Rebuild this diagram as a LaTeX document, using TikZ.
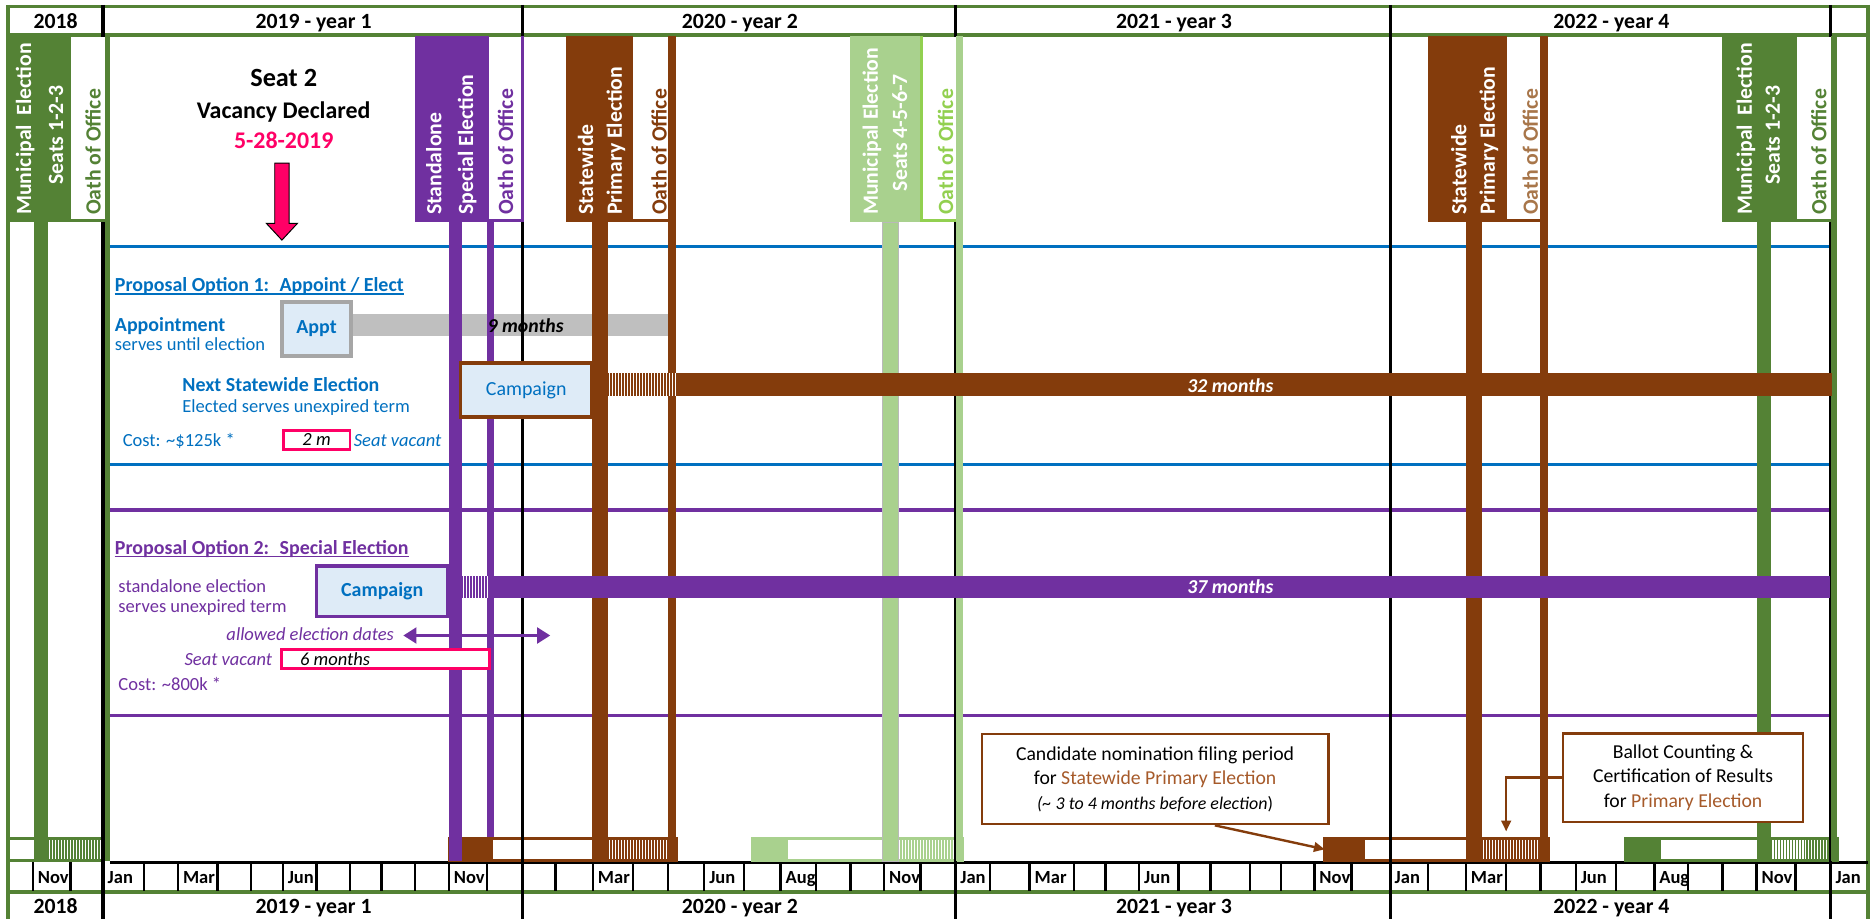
\documentclass[tikz,border=0pt]{standalone}
\usepackage{fontspec}
\setmainfont{Carlito}
\usetikzlibrary{arrows.meta}
\definecolor{dgreen}{HTML}{548235}
\definecolor{lgreen}{HTML}{A9D18E}
\definecolor{bgreen}{HTML}{92D050}
\definecolor{purp}{HTML}{7030A0}
\definecolor{brn}{HTML}{843C0C}
\definecolor{lbrn}{HTML}{A8764A}
\definecolor{blu}{HTML}{0070C0}
\definecolor{pnk}{HTML}{FF0066}
\definecolor{lblue}{HTML}{DEEBF7}
\definecolor{gbar}{HTML}{BFBFBF}
\definecolor{gbord}{HTML}{A6A6A6}
\definecolor{orng}{HTML}{A65A2A}
\newcommand\fsz[2]{\fontsize{#1}{#2}\selectfont}
\newcommand\hatchrect[5]{%
  \fill[#5] (#1,#3) rectangle (#2,#4);%
  \pgfmathsetmacro\hxa{#1+1.3}\pgfmathsetmacro\hxb{#1+3.8}%
  \foreach \hx in {\hxa,\hxb,...,#2}{\draw[white,line width=1] (\hx,#3) -- (\hx,#4);}%
}
\tikzset{
  yrlab/.style={font=\bfseries\fsz{18.2}{21}, inner sep=0, anchor=base},
  monlab/.style={font=\bfseries\fsz{15.5}{17}, inner sep=0, anchor=base west},
  rotlab/.style={font=\bfseries\fsz{18.2}{21}, inner sep=0, rotate=90, anchor=base west},
  rotmid/.style={font=\bfseries\fsz{18.2}{21}, inner sep=0, rotate=90, anchor=base},
  bhead/.style={font=\bfseries\fsz{16.7}{19}, inner sep=0, anchor=base west},
  btxt/.style={font=\fsz{15.5}{18}, inner sep=0, anchor=base west},
  itxt/.style={font=\itshape\fsz{15.5}{18}, inner sep=0, anchor=base west},
  bimon/.style={font=\bfseries\itshape\fsz{16.5}{19}, inner sep=0},
  cbox/.style={line width=3, fill=lblue, inner sep=0, font=\fsz{16.7}{19}, text=blu},
  pbox/.style={draw=pnk, line width=2.5, fill=white, inner sep=0},
  filbox/.style={inner sep=0, outer sep=0, minimum height=20, anchor=north west},
  note/.style={draw=brn, line width=2, fill=white, inner sep=0, align=center, font=\fsz{16.5}{20.5}},
  arr/.style={brn, line width=2, -{Triangle[length=9,width=8]}},
}
\begin{document}
\begin{tikzpicture}[x=1pt,y=-1pt]
\useasboundingbox (0,0) rectangle (1568,769);
\fill[white] (0,0) rectangle (1568,769);

% ---- section lines
\draw[blu, line width=3] (92,206.5) -- (1531,206.5);
\draw[blu, line width=3] (92,389) -- (1531,389);
\draw[purp, line width=3] (92,427) -- (1531,427);
\draw[purp, line width=3] (92,599) -- (1531,599);

% ---- appointment bar
\fill[gbar] (294,263) rectangle (561,281.3);

% ---- frame
\draw[dgreen, line width=3] (5.2,5.5) -- (1565.5,5.5);
\draw[dgreen, line width=3] (5.2,29.5) -- (1565.5,29.5);
\draw[dgreen, line width=3] (5.2,746.5) -- (1565.5,746.5);
\draw[dgreen, line width=3] (6.7,4) -- (6.7,769);
\draw[dgreen, line width=3] (1564,4) -- (1564,769);

% ---- month row
\draw[line width=1.8] (92,722) -- (1564,722);
\foreach \mx in {27.5,58.9,120.8,149,182,210,236.7,264.8,293,319.4,347.6,375.7,407.8,
  465,496.4,530,559.2,589.6,622.7,653.5,683.3,712.1,740.2,770.7,
  828.9,862,899.1,925.6,953.7,986.5,1013.3,1046.3,1072.6,1100.4,1131.5,
  1195.3,1227.2,1261,1289.5,1319.2,1353,1384.9,1413,1442,1470.5,1503.1}
  \draw[line width=2] (\mx,722) -- (\mx,746);
\foreach \mx/\mn in {27.5/Nov,86/Jan,149/Mar,236.7/Jun,375.7/Nov,
  496.4/Mar,589.6/Jun,653.5/Aug,740.2/Nov,
  799.8/Jan,862/Mar,953.7/Jun,1100.4/Nov,
  1163.4/Jan,1227.2/Mar,1319.2/Jun,1384.9/Aug,1470.5/Nov,1532.4/Jan}
  \node[monlab] at (\mx+4,739.5) {\mn};

% ---- bottom strips
\draw[dgreen, line width=2.5] (6.7,702) rectangle (86,720.5);
\hatchrect{40}{86}{703.2}{719.3}{dgreen}

\draw[brn, line width=2.5] (376,702) rectangle (566,720.5);
\node[filbox, fill=brn, minimum width=26] (fil1) at (387,701) {};
\hatchrect{509}{559.5}{703.2}{719.3}{brn}

\draw[lgreen, line width=2.5] (630,702) rectangle (806,720.5);
\node[filbox, fill=lgreen, minimum width=30] (fil0) at (630,701) {};
\hatchrect{752}{800.5}{703.2}{719.3}{lgreen}

\draw[brn, line width=2.5] (1109,702) rectangle (1296,720.5);
\node[filbox, fill=brn, minimum width=34] (fil2) at (1109,701) {};
\hatchrect{1240.5}{1289.5}{703.2}{719.3}{brn}

\draw[dgreen, line width=2.5] (1360.6,702) rectangle (1538,720.5);
\node[filbox, fill=dgreen, minimum width=30] (fil3) at (1360.6,701) {};
\hatchrect{1483}{1532}{703.2}{719.3}{dgreen}

% ---- year separators
\foreach \bx in {86,437.5,800,1164,1532.5}
  \draw[line width=3] (\bx,4) -- (\bx,769);

% ---- election columns
% 2018 municipal
\fill[dgreen] (5.2,30) rectangle (59.8,186);
\fill[white] (59.8,31) rectangle (90,184.5);
\draw[dgreen, line width=3] (59.8,184.5) -- (90,184.5);
\fill[dgreen] (87.5,30) rectangle (92.5,721);
\fill[dgreen] (28.5,186) rectangle (40,721);
% 2019 special
\fill[purp] (347,30) rectangle (409,186);
\fill[white] (409,31) rectangle (437.5,184.5);
\draw[purp, line width=3] (409,184.5) -- (437.5,184.5) -- (437.5,30);
\fill[purp] (408,184) rectangle (413.5,701);
\fill[purp] (376,186) rectangle (387,721);
% 2020 primary
\fill[brn] (474,30) rectangle (530,186);
\fill[white] (530,31) rectangle (563,184.5);
\draw[brn, line width=3] (530,184.5) -- (563,184.5);
\fill[brn] (559.5,30) rectangle (566,721);
\fill[brn] (496,186) rectangle (509,721);
% 2020 municipal
\fill[lgreen] (711.6,30) rectangle (770,186);
\fill[white] (770,31) rectangle (803,184.5);
\draw[bgreen, line width=3] (771.5,30) -- (771.5,184.5) -- (803,184.5) -- (803,30);
\fill[lgreen] (800.5,30) rectangle (806,721);
\draw[gray!55, line width=0.8, fill=lgreen] (739,186) rectangle (752,721);
% 2022 primary
\fill[brn] (1195.7,30) rectangle (1261.5,186);
\fill[white] (1261.5,31) rectangle (1293,184.5);
\draw[brn, line width=3] (1261.5,184.5) -- (1293,184.5);
\fill[brn] (1289.5,30) rectangle (1296,721);
\fill[brn] (1227.5,186) rectangle (1240.5,721);
% 2022 municipal
\fill[dgreen] (1441.6,30) rectangle (1504,186);
\fill[white] (1504,31) rectangle (1536,184.5);
\draw[dgreen, line width=3] (1504,184.5) -- (1536,184.5);
\fill[dgreen] (1533,30) rectangle (1538,721);
\fill[dgreen] (1470.5,186) rectangle (1483,721);

% rotated labels
\node[rotlab, text=white] (m1a) at (26,180) {Municipal~ Election};
\node[rotmid, text=white] (m1b) at (52.9,113) {Seats 1-2-3};
\node[rotlab, text=dgreen] (o1) at (84.3,180) {Oath of Office};
\node[rotlab, text=white] (s1a) at (369.5,180) {Standalone};
\node[rotlab, text=white] (s1b) at (396,180) {Special Election};
\node[rotlab, text=purp] (o2) at (429.5,180) {Oath of Office};
\node[rotlab, text=white] (p1a) at (496.5,180) {Statewide};
\node[rotlab, text=white] (p1b) at (520.5,180) {Primary Election};
\node[rotlab, text=brn] (o3) at (558,180) {Oath of Office};
\node[rotlab, text=white] (m2a) at (735,180) {Municipal Election};
\node[rotmid, text=white] (m2b) at (759.5,111) {Seats 4-5-6-7};
\node[rotlab, text=bgreen] (o4) at (798,180) {Oath of Office};
\node[rotlab, text=white] (p2a) at (1227.5,180) {Statewide};
\node[rotlab, text=white] (p2b) at (1251.5,180) {Primary Election};
\node[rotlab, text=lbrn] (o5) at (1287.5,180) {Oath of Office};
\node[rotlab, text=white] (m3a) at (1466.5,180) {Municipal~ Election};
\node[rotmid, text=white] (m3b) at (1490,113) {Seats 1-2-3};
\node[rotlab, text=dgreen] (o6) at (1529,180) {Oath of Office};

% ---- year labels
\foreach \yx/\yt in {46.5/2018,262.5/2019 - year 1,619.4/2020 - year 2,982.8/2021 - year 3,1349/2022 - year 4}{
  \node[yrlab] at (\yx,23.9) {\yt};
  \node[yrlab] at (\yx,764.7) {\yt};
}

% ---- vacancy
\node[font=\bfseries\fsz{22}{26}, anchor=base, inner sep=0] (seat) at (237.5,72) {Seat 2};
\node[font=\bfseries\fsz{20}{24}, anchor=base, inner sep=0] (vacd) at (237.5,99) {Vacancy Declared};
\node[font=\bfseries\fsz{20}{24}, anchor=base, inner sep=0, text=pnk] (vdate) at (237.5,124.5) {5-28-2019};
\draw[black, line width=0.8, fill=pnk] (230,136.5) -- (242,136.5) -- (242,187) -- (249,187) -- (236,201) -- (223,187) -- (230,187) -- cycle;

% ---- option 1
\node[bhead, text=blu] (op1) at (96,244) {Proposal Option 1:~ Appoint / Elect};
\draw[blu, line width=1.3] ([yshift=-2pt]op1.base west) -- ([yshift=-2pt]op1.base east);
\node[bhead, text=blu] (ap1) at (96,277.5) {Appointment};
\node[btxt, text=blu] (ap2) at (96,293.5) {serves until election};
\node[cbox, draw=gbord, minimum width=58, minimum height=45, font=\bfseries\fsz{16.7}{19}] (appt) at (265,275.3) {Appt};
\node[bimon] (nine) at (440,272.5) {9 months};
\node[bhead, text=blu] (ns1) at (152.5,328) {Next Statewide Election};
\node[btxt, text=blu] (ns2) at (152.5,345) {Elected serves unexpired term};
\node[btxt, text=blu] (cost1) at (102.6,373.5) {Cost: \textasciitilde\$125k *};
\node[pbox, minimum width=56, minimum height=15.5] (vac1) at (265,368.3) {};
\node[font=\itshape\fsz{15.5}{18}, inner sep=0] (vac1t) at (265,368.3) {2 m};
\node[itxt, text=blu] (sv1) at (296,373.5) {Seat vacant};
\hatchrect{509}{566}{312.5}{331.3}{brn}
\fill[brn] (566,312.5) rectangle (1534,331.3);
\node[bimon, text=white] (m32) at (1030,322.5) {32 months};
\node[cbox, draw=brn, minimum width=110, minimum height=45] (camp1) at (440.5,326.5) {Campaign};

% ---- option 2
\node[bhead, text=purp] (op2) at (96,464) {Proposal Option 2:~ Special Election};
\draw[purp, line width=1.3] ([yshift=-2pt]op2.base west) -- ([yshift=-2pt]op2.base east);
\node[btxt, text=purp] (sa1) at (99,496) {standalone election};
\node[btxt, text=purp] (sa2) at (99,513) {serves unexpired term};
\node[cbox, draw=purp, minimum width=110, minimum height=42, font=\bfseries\fsz{16.7}{19}] (camp2) at (320,495) {Campaign};
\hatchrect{387}{408.5}{482}{500.6}{purp}
\fill[purp] (408.5,482) rectangle (1532,500.6);
\node[bimon, text=white] (m37) at (1030,491.5) {37 months};
\node[itxt, text=purp, anchor=base east] (aed) at (330,536.5) {allowed election dates};
\coordinate (ad1) at (337.6,532);
\coordinate (ad2) at (460.7,532);
\draw[purp, line width=3, {Triangle[length=11,width=13]}-{Triangle[length=11,width=13]}] (ad1) -- (ad2);
\node[itxt, text=purp, anchor=base east] (sv2) at (228,557) {Seat vacant};
\node[pbox, minimum width=174, minimum height=16] (vac2) at (323,552) {};
\node[font=\itshape\fsz{15.5}{18}, inner sep=0, anchor=base west] (vac2t) at (251,557) {6 months};
\node[btxt, text=purp] (cost2) at (99,578) {Cost: \textasciitilde800k *};

% ---- notes
\node[note, minimum width=290, minimum height=75.5] (nomb) at (967,652.2) {Candidate nomination filing period\\
for \textcolor{orng}{Statewide Primary Election}\\
{\itshape\fsz{15}{18}(\textasciitilde{} 3 to 4 months before election}{\fsz{15}{18})}};
\node[note, minimum width=201, minimum height=74] (ballb) at (1409,651) {Ballot Counting \&\\
Certification of Results\\
for \textcolor{orng}{Primary Election}};
\draw[arr] ([xshift=50]nomb.south) -- (fil2.west);
\draw[arr] (ballb.west) -- ++(-46.6,0) -- ++(0,45);
\end{tikzpicture}
\end{document}
